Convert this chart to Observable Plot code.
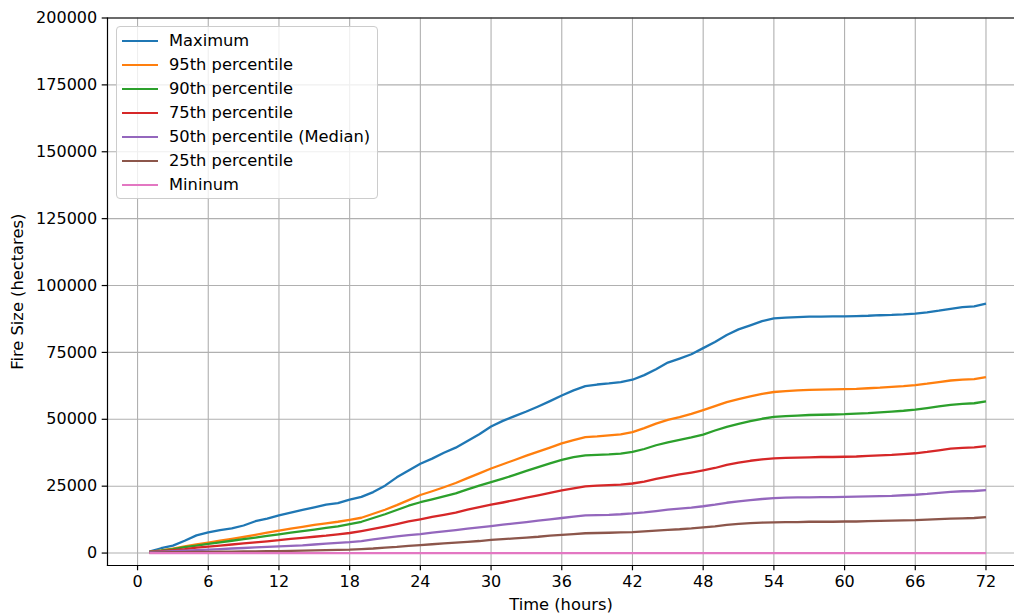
<!DOCTYPE html>
<html>
<head>
<meta charset="utf-8">
<script src="https://cdn.jsdelivr.net/npm/d3@7"></script>
<script src="https://cdn.jsdelivr.net/npm/@observablehq/plot@0.6"></script>
<style>
  html, body { margin: 0; padding: 0; background: #fff; }
  #wrap { position: relative; width: 1014px; height: 614px; overflow: hidden; font-family: "DejaVu Sans", sans-serif; }
  #legend {
    position: absolute; left: 116px; top: 26px; width: 262px; height: 173px;
    border: 1px solid #cccccc; border-radius: 4px; background: rgba(255,255,255,0.8);
    box-sizing: border-box;
  }
  .row { position: absolute; left: 0; height: 24px; }
  .swatch { position: absolute; left: 5px; width: 36px; height: 2.3px; }
  .lab { position: absolute; left: 52px; font-size: 16.3px; color: #000; white-space: nowrap; line-height: 24px; top: 0; }
</style>
</head>
<body>
<div id="wrap"></div>
<script>
// Hours after ignition
const hours = [1,2,3,4,5,6,7,8,9,10,11,12,13,14,15,16,17,18,19,20,21,22,23,24,
  25,26,27,28,29,30,31,32,33,34,35,36,37,38,39,40,41,42,43,44,45,46,47,48,
  49,50,51,52,53,54,55,56,57,58,59,60,61,62,63,64,65,66,67,68,69,70,71,72];

// Fire size (hectares) per hour for each statistic
const maximum = [500,1800,2800,4600,6600,7700,8600,9200,10300,11900,12900,14100,
  15100,16100,17100,18100,18700,20000,21000,22800,25200,28300,30900,33400,
  35300,37500,39400,41900,44400,47300,49400,51200,52900,54800,56800,58900,
  60800,62400,63000,63400,63900,64800,66500,68700,71200,72700,74300,76600,
  78900,81500,83600,85100,86700,87700,88000,88200,88400,88400,88500,88500,
  88600,88700,88900,89000,89200,89500,90000,90600,91300,91900,92200,93200];
const p95 = [400,1000,1700,2500,3200,3900,4600,5300,6000,6800,7600,8400,
  9100,9800,10500,11100,11700,12400,13200,14700,16200,17900,19800,21700,
  23100,24600,26200,28000,29800,31600,33200,34800,36400,37900,39400,41000,
  42200,43300,43600,44000,44400,45200,46700,48400,49800,50800,52000,53400,
  54900,56400,57500,58600,59500,60200,60500,60800,61000,61100,61200,61300,
  61400,61600,61800,62100,62400,62800,63300,63900,64500,64800,65000,65800];
const p90 = [400,900,1500,2200,2800,3400,4000,4600,5200,5800,6400,7000,
  7600,8200,8800,9400,10000,10800,11700,13100,14500,16100,17700,19000,
  20100,21200,22300,23800,25200,26500,27800,29200,30700,32100,33500,34800,
  35900,36500,36700,36900,37200,37800,38900,40300,41400,42300,43200,44300,
  45800,47200,48300,49300,50200,50900,51200,51400,51600,51700,51800,51900,
  52100,52300,52600,52900,53200,53600,54200,54800,55400,55800,56000,56700];
const p75 = [400,700,1100,1500,2000,2400,2800,3200,3600,4000,4400,4800,
  5300,5700,6100,6500,7000,7500,8200,9000,9900,10800,11800,12600,
  13500,14300,15100,16200,17200,18100,18900,19800,20700,21600,22500,23400,
  24200,24900,25200,25400,25600,26000,26700,27700,28600,29400,30100,30900,
  31800,33000,33800,34500,35000,35400,35600,35700,35800,35900,35900,36000,
  36100,36300,36500,36700,37000,37300,37800,38400,39000,39300,39500,40000];
const p50 = [300,500,700,900,1100,1300,1500,1700,1900,2100,2300,2500,
  2700,2900,3200,3500,3800,4100,4500,5100,5700,6200,6700,7100,
  7600,8100,8600,9100,9600,10100,10600,11100,11600,12100,12600,13100,
  13600,14100,14200,14300,14500,14800,15200,15700,16200,16600,17000,17500,
  18100,18800,19300,19800,20200,20500,20700,20800,20800,20900,20900,21000,
  21100,21200,21300,21400,21600,21800,22100,22500,22900,23100,23200,23500];
const p25 = [200,250,300,350,400,450,500,550,600,650,700,750,
  800,900,1000,1100,1200,1300,1500,1700,2000,2300,2700,3000,
  3300,3600,3900,4200,4500,4900,5200,5500,5800,6100,6500,6800,
  7100,7400,7500,7600,7700,7850,8100,8400,8700,8900,9200,9600,
  10000,10500,10900,11200,11400,11500,11600,11600,11700,11700,11700,11800,
  11800,11900,12000,12100,12200,12300,12500,12700,12900,13000,13100,13400];
const minimum = [0,0,0,0,0,0,0,0,0,0,0,0,0,0,0,0,0,0,0,0,0,0,0,0,
  0,0,0,0,0,0,0,0,0,0,0,0,0,0,0,0,0,0,0,0,0,0,0,0,
  0,0,0,0,0,0,0,0,0,0,0,0,0,0,0,0,0,0,0,0,0,0,0,0];

const seriesNames = ["Maximum", "95th percentile", "90th percentile", "75th percentile",
  "50th percentile (Median)", "25th percentile", "Mininum"];
const seriesValues = [maximum, p95, p90, p75, p50, p25, minimum];
const seriesColors = ["#1f77b4", "#ff7f0e", "#2ca02c", "#d62728", "#9467bd", "#8c564b", "#e377c2"];

const xTicks = [0, 6, 12, 18, 24, 30, 36, 42, 48, 54, 60, 66, 72];
const yTicks = [0, 25000, 50000, 75000, 100000, 125000, 150000, 175000, 200000];

const rows = seriesNames.flatMap((name, i) =>
  hours.map((h, j) => ({series: name, hour: h, size: seriesValues[i][j]})));

const gridStyle = {stroke: "#b0b0b0", strokeOpacity: 1, strokeWidth: 1.1};

const chart = Plot.plot({
  width: 1014,
  height: 614,
  marginLeft: 107,
  marginRight: 0,
  marginTop: 17.5,
  marginBottom: 49,
  style: {fontFamily: "DejaVu Sans, sans-serif", fontSize: "16px", color: "#000", background: "#fff"},
  x: {domain: [-2.55, 74.42]},
  y: {domain: [-4650, 200000]},
  color: {domain: seriesNames, range: seriesColors},
  marks: [
    Plot.gridX(xTicks, gridStyle),
    Plot.gridY(yTicks, gridStyle),
    Plot.frame({anchor: "left", strokeWidth: 1.2}),
    Plot.frame({anchor: "bottom", strokeWidth: 1.2}),
    Plot.frame({anchor: "top", strokeWidth: 1.2}),
    Plot.axisX({ticks: xTicks, tickSize: 5.3, tickPadding: 4.5, strokeWidth: 1.2,
      fontSize: 16, label: null}),
    Plot.axisX({ticks: [], label: "Time (hours)", labelAnchor: "center", labelArrow: "none",
      labelOffset: 44, fontSize: 16.3}),
    Plot.axisY({ticks: yTicks, tickSize: 5.3, tickPadding: 5, strokeWidth: 1.2,
      tickFormat: d => String(d), fontSize: 16, label: null}),
    Plot.axisY({ticks: [], label: "Fire Size (hectares)", labelAnchor: "center", labelArrow: "none",
      labelOffset: 96, fontSize: 16.3}),
    Plot.line(rows, {x: "hour", y: "size", z: "series", stroke: "series", strokeWidth: 2.3,
      strokeLinejoin: "round", strokeLinecap: "butt"})
  ]
});

const wrap = document.getElementById("wrap");
wrap.appendChild(chart);

// Legend box drawn over the plot area
const legend = document.createElement("div");
legend.id = "legend";
seriesNames.forEach((name, i) => {
  const row = document.createElement("div");
  row.className = "row";
  row.style.top = (1.5 + i * 24) + "px";
  row.style.width = "100%";
  const sw = document.createElement("div");
  sw.className = "swatch";
  sw.style.background = seriesColors[i];
  sw.style.top = "11px";
  const lab = document.createElement("div");
  lab.className = "lab";
  lab.textContent = name;
  row.appendChild(sw);
  row.appendChild(lab);
  legend.appendChild(row);
});
wrap.appendChild(legend);
</script>
</body>
</html>
